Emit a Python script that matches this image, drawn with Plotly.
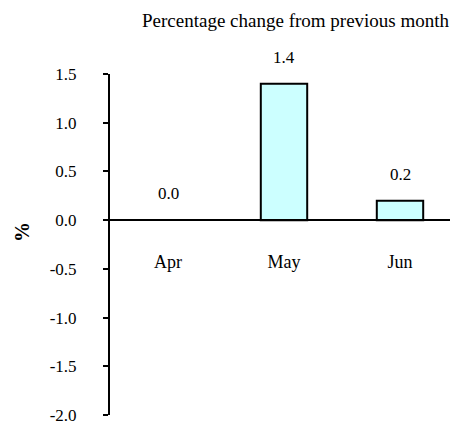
import plotly.graph_objects as go

months = ['Apr', 'May', 'Jun']
pct_change = [0.0, 1.4, 0.2]
y_ticks = [1.5, 1.0, 0.5, 0.0, -0.5, -1.0, -1.5, -2.0]

font = 'Liberation Serif'
y_min, y_max = -2.0, 1.5

# page body has an 8px margin, so the figure is drawn 8px in from the corner
fig = go.Figure(
    go.Bar(
        x=months,
        y=pct_change,
        width=0.4,
        marker=dict(
            color='#CCFFFF',
            line=dict(color='black', width=[0 if v == 0 else 2 for v in pct_change]),
        ),
        cliponaxis=False,
    )
)

for m, v in zip(months, pct_change):
    fig.add_annotation(
        x=m, y=v, xref='x', yref='y',
        text=f'{v:.1f}',
        showarrow=False,
        yanchor='bottom',
        yshift=15,
        font=dict(family=font, size=17, color='black'),
    )

fig.update_layout(
    width=450,
    height=418,
    margin=dict(l=102, r=0, t=66, b=11),
    plot_bgcolor='white',
    paper_bgcolor='white',
    showlegend=False,
    font=dict(family=font, size=17, color='black'),
    xaxis=dict(
        range=[-0.5, 2.5],
        anchor='free',
        position=(0 - y_min) / (y_max - y_min),
        showline=True,
        linecolor='black',
        linewidth=2,
        ticks='',
        showgrid=False,
        zeroline=False,
        ticklabelstandoff=25,
        tickfont=dict(family=font, size=18),
    ),
    yaxis=dict(
        range=[y_min, y_max],
        tickvals=y_ticks,
        ticktext=[f'{v:.1f}' for v in y_ticks],
        showline=True,
        linecolor='black',
        linewidth=2,
        ticks='outside',
        ticklen=5,
        tickwidth=2,
        tickcolor='black',
        showgrid=False,
        zeroline=False,
        ticklabelstandoff=23,
        tickfont=dict(family=font, size=17),
    ),
)

fig.add_annotation(
    text='<b>%</b>',
    xref='paper', yref='paper',
    x=0, y=0.537, xanchor='center', yanchor='middle',
    xshift=-88,
    textangle=-90,
    showarrow=False,
    font=dict(family=font, size=20, color='black'),
)

fig.add_annotation(
    text='Percentage change from previous month',
    xref='paper', yref='paper',
    x=1.0, y=1.0, xanchor='right', yanchor='top',
    xshift=-6, yshift=66,
    showarrow=False,
    font=dict(family=font, size=19, color='black'),
)

fig.write_html('out.html')
